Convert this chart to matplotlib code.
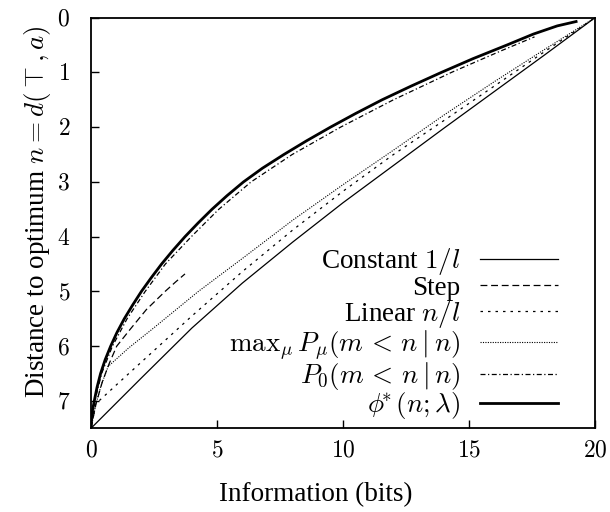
import matplotlib
matplotlib.use("Agg")
import matplotlib.pyplot as plt

plt.rcParams['font.family'] = ['Liberation Serif', 'DejaVu Serif']
plt.rcParams['mathtext.fontset'] = 'cm'

# ---- data ----
const_x = [0, 2, 4, 6, 8, 10, 12, 14, 16, 18, 20]
const_n = [7.5, 6.58, 5.67, 4.85, 4.1, 3.38, 2.7, 2.02, 1.35, 0.68, 0.0]

step_x = [0, 0.2, 0.45, 0.72, 1.02, 1.54, 2.2, 2.94, 3.35, 3.73]
step_n = [7.5, 7.05, 6.65, 6.32, 6.0, 5.70, 5.33, 5.0, 4.83, 4.68]

linear_x = [0, 0.15, 1, 2, 4, 6, 8, 10, 12, 14, 16, 18, 20]
linear_n = [7.5, 7.07, 6.71, 6.29, 5.45, 4.64, 3.88, 3.17, 2.5, 1.88, 1.25, 0.62, 0.0]

maxmu_x = [0, 0.2, 0.4, 0.68, 1.5, 2.4, 4.26, 6, 8, 10, 12, 14, 16, 18, 20]
maxmu_n = [7.5, 7.05, 6.72, 6.37, 6.03, 5.70, 5.0, 4.4, 3.7, 3.05, 2.42, 1.78, 1.17, 0.58, 0.0]

p0_x = [0, 0.15, 0.42, 0.85, 1.43, 2.15, 2.95, 3.98, 5.07, 6.35, 7.98, 9.9, 12.0, 14.3, 16.3, 17.6]
p0_n = [7.5, 7.0, 6.5, 6.0, 5.5, 5.0, 4.5, 4.0, 3.5, 3.0, 2.5, 2.0, 1.5, 1.0, 0.6, 0.35]

phi_x = [0, 0.03, 0.13, 0.24, 0.38, 0.56, 0.78, 1.03, 1.32, 1.65, 2.0, 2.39, 2.8,
         3.25, 3.73, 4.25, 4.8, 5.4, 6.05, 6.8, 7.65, 8.55, 9.5, 10.5, 11.55,
         12.7, 13.9, 15.15, 16.5, 17.55, 18.5, 19.25]
phi_n = [7.5, 7.25, 7.0, 6.75, 6.5, 6.25, 6.0, 5.75, 5.5, 5.25, 5.0, 4.75, 4.5,
         4.25, 4.0, 3.75, 3.5, 3.25, 3.0, 2.75, 2.5, 2.25, 2.0, 1.75, 1.5,
         1.25, 1.0, 0.75, 0.5, 0.3, 0.15, 0.07]

labels = [r"Constant $1/l$", "Step", r"Linear $n/l$",
          r"$\mathrm{max}_\mu\, P_\mu(m \,<\, n \mid n)$",
          r"$P_0(m \,<\, n \mid n)$",
          r"$\phi^{\!\!\!*}(n; \lambda)$"]

xticks = [0, 5, 10, 15, 20]
yticks = [0, 1, 2, 3, 4, 5, 6, 7]

fig = plt.figure(figsize=(6.1, 5.12), dpi=100)
ax = fig.add_axes([91/610, 1 - 428.3/512, (595-91)/610, (428.3-17.7)/512])

ax.plot(const_x, const_n, color='black', lw=0.9, ls='-', label=labels[0])
ax.plot(step_x, step_n, color='black', lw=0.9, ls=(0, (5.5, 3)), label=labels[1])
ax.plot(linear_x, linear_n, color='black', lw=0.9, ls=(0, (2, 4)), label=labels[2])
ax.plot(maxmu_x, maxmu_n, color='black', lw=0.8, ls=(0, (1, 1.2)), label=labels[3])
ax.plot(p0_x, p0_n, color='black', lw=0.9, ls=(0, (4, 2, 1, 2)), label=labels[4])
ax.plot(phi_x, phi_n, color='black', lw=2.0, ls='-', label=labels[5])

ax.set_xlim(0, 20)
ax.set_ylim(7.5, 0)
ax.set_xticks(xticks)
ax.set_yticks(yticks)
ax.set_xticklabels([f"${t}$" for t in xticks])
ax.set_yticklabels([f"${t}$" for t in yticks])
ax.tick_params(axis='both', direction='in', length=6, width=1.0, labelsize=17,
               top=False, right=False)
ax.tick_params(axis='x', pad=9)
ax.tick_params(axis='y', pad=15)
for s in ax.spines.values():
    s.set_linewidth(1.3)

ax.set_xlabel("Information (bits)", fontsize=19.5)
ax.set_ylabel(r"Distance to optimum $n = d(\top, a)$", fontsize=19.5)
ax.xaxis.set_label_coords(0.445, -0.13)
ax.yaxis.set_label_coords(-0.075, 0.527)

leg = ax.legend(loc='lower right', bbox_to_anchor=(0.943, -0.003), frameon=False,
                markerfirst=False, fontsize=19.5, handlelength=2.9,
                handletextpad=0.7, labelspacing=-0.06, borderpad=0.3,
                borderaxespad=0.0)

fig.savefig("out.png", dpi=100)
